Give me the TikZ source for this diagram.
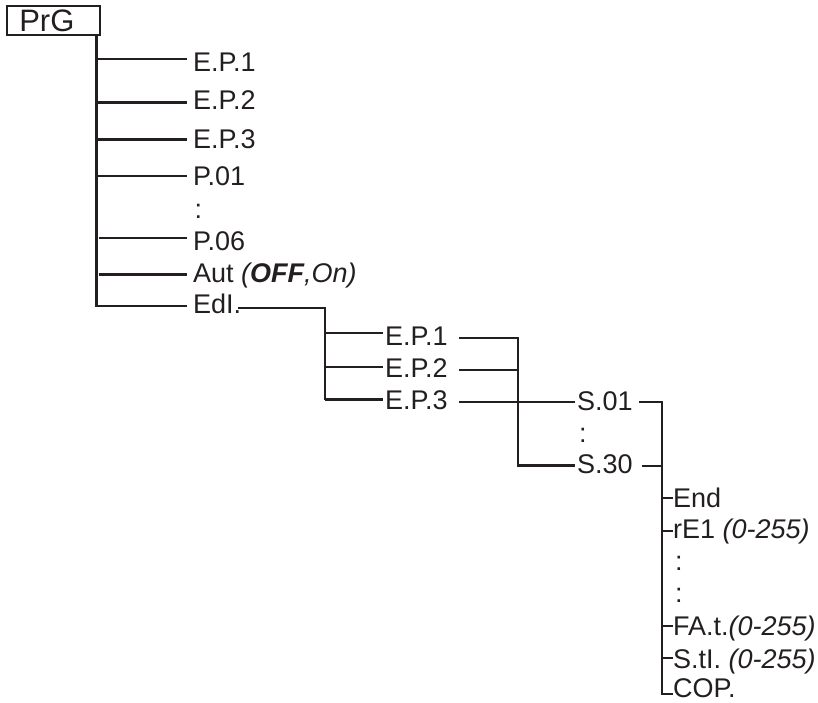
\documentclass[tikz,border=0pt]{standalone}
\usepackage{fontspec}
\setmainfont{Liberation Sans}
\usetikzlibrary{calc}
\definecolor{ink}{RGB}{35,31,32}
\begin{document}
\begin{tikzpicture}[x=1pt,y=-1pt,
  lab/.style={font=\fontsize{27}{30}\selectfont, text=ink, inner sep=0pt, outer sep=0pt, anchor=base west},
  ln/.style={draw=ink, line width=2.5pt},
  boxnode/.style={draw=ink, line width=2.2pt, anchor=north west, minimum width=93pt, minimum height=29pt, inner sep=0pt, outer sep=0pt, text width=93pt, align=left, font=\fontsize{31}{33}\selectfont, text=ink}]
\useasboundingbox (0,0) rectangle (818,702);

% root box
\node[boxnode] (prg) at (7,6) {\hspace*{12.3pt}PrG};

% level 1 labels
\node[lab] (a1) at (193,71.5) {E.P.1};
\node[lab] (a2) at (193,109) {E.P.2};
\node[lab] (a3) at (193,148.5) {E.P.3};
\node[lab] (a4) at (193,185.5) {P.01};
\node[lab] (a5) at (194.5,218) {:};
\node[lab] (a6) at (193,250) {P.06};
\node[lab] (a7) at (193,282.5) {Aut \textit{(\textbf{OFF},On)}};
\node[lab] (a8) at (193,313) {EdI.};

% level 1 connectors
\coordinate (t0) at (96.5,35);
\coordinate (r1) at (96.5,59);
\coordinate (r2) at (96.5,102.5);
\coordinate (r3) at (96.5,139.5);
\coordinate (r4) at (96.5,176);
\coordinate (r6) at (98.5,238);
\coordinate (r7) at (98.5,274.5);
\coordinate (r8) at (96.5,306);
\draw[ln] (t0) -- (r8) -- ($(r8 -| a8.west)+(-6,0)$);
\foreach \i in {1,2,3,4,6,7} \draw[ln] (r\i) -- ($(r\i -| a\i.west)+(-6,0)$);

% level 2 labels
\node[lab] (b1) at (385,345) {E.P.1};
\node[lab] (b2) at (385,377) {E.P.2};
\node[lab] (b3) at (385,409) {E.P.3};

% level 2 connectors
\coordinate (q0) at (325,308);
\coordinate (q1) at (325,333);
\coordinate (q2) at (325,367);
\coordinate (q3) at (325,399.5);
\draw[ln] ($(a8.east |- q0)+(-3,0)$) -- (q0) -- (q3);
\foreach \i in {1,2,3} \draw[ln] (q\i) -- ($(q\i -| b\i.west)+(-2,0)$);

% level 3 labels
\node[lab] (s1) at (577,410) {S.01};
\node[lab] (s2) at (579,442) {:};
\node[lab] (s30) at (577,473.5) {S.30};

% level 3 connectors
\coordinate (v1) at (518,338);
\coordinate (v2) at (518,370);
\coordinate (v3) at (518,402);
\coordinate (w2) at (518,465.5);
\draw[ln] ($(v1 -| b1.east)+(11,0)$) -- (v1) -- (w2) -- ($(w2 -| s30.west)+(-2,0)$);
\draw[ln] ($(v2 -| b2.east)+(11,0)$) -- (v2);
\draw[ln] ($(v3 -| b3.east)+(11,0)$) -- ($(v3 -| s1.west)+(-2,0)$);

% level 4 labels
\node[lab] (c1) at (673,507) {End};
\node[lab] (c2) at (673,538) {rE1 \textit{(0-255)}};
\node[lab] (c3) at (675,570) {:};
\node[lab] (c4) at (675,602) {:};
\node[lab] (c5) at (673,635) {FA.t.\textit{(0-255)}};
\node[lab] (c6) at (673,668) {S.tI. \textit{(0-255)}};
\node[lab] (c7) at (673,697.5) {COP.};

% level 4 connectors
\coordinate (u1) at (662,402);
\coordinate (u2) at (662,466);
\coordinate (u9) at (662,694);
\coordinate (k1) at (662,498);
\coordinate (k2) at (662,531);
\coordinate (k5) at (662,626);
\coordinate (k6) at (662,658);
\draw[ln] ($(u1 -| s1.east)+(6,0)$) -- (u1) -- (u9) -- (u9 -| c7.west);
\draw[ln] ($(u2 -| s30.east)+(9,0)$) -- (u2);
\foreach \i in {1,2,5,6} \draw[ln] (k\i) -- (k\i -| c\i.west);
\end{tikzpicture}
\end{document}
